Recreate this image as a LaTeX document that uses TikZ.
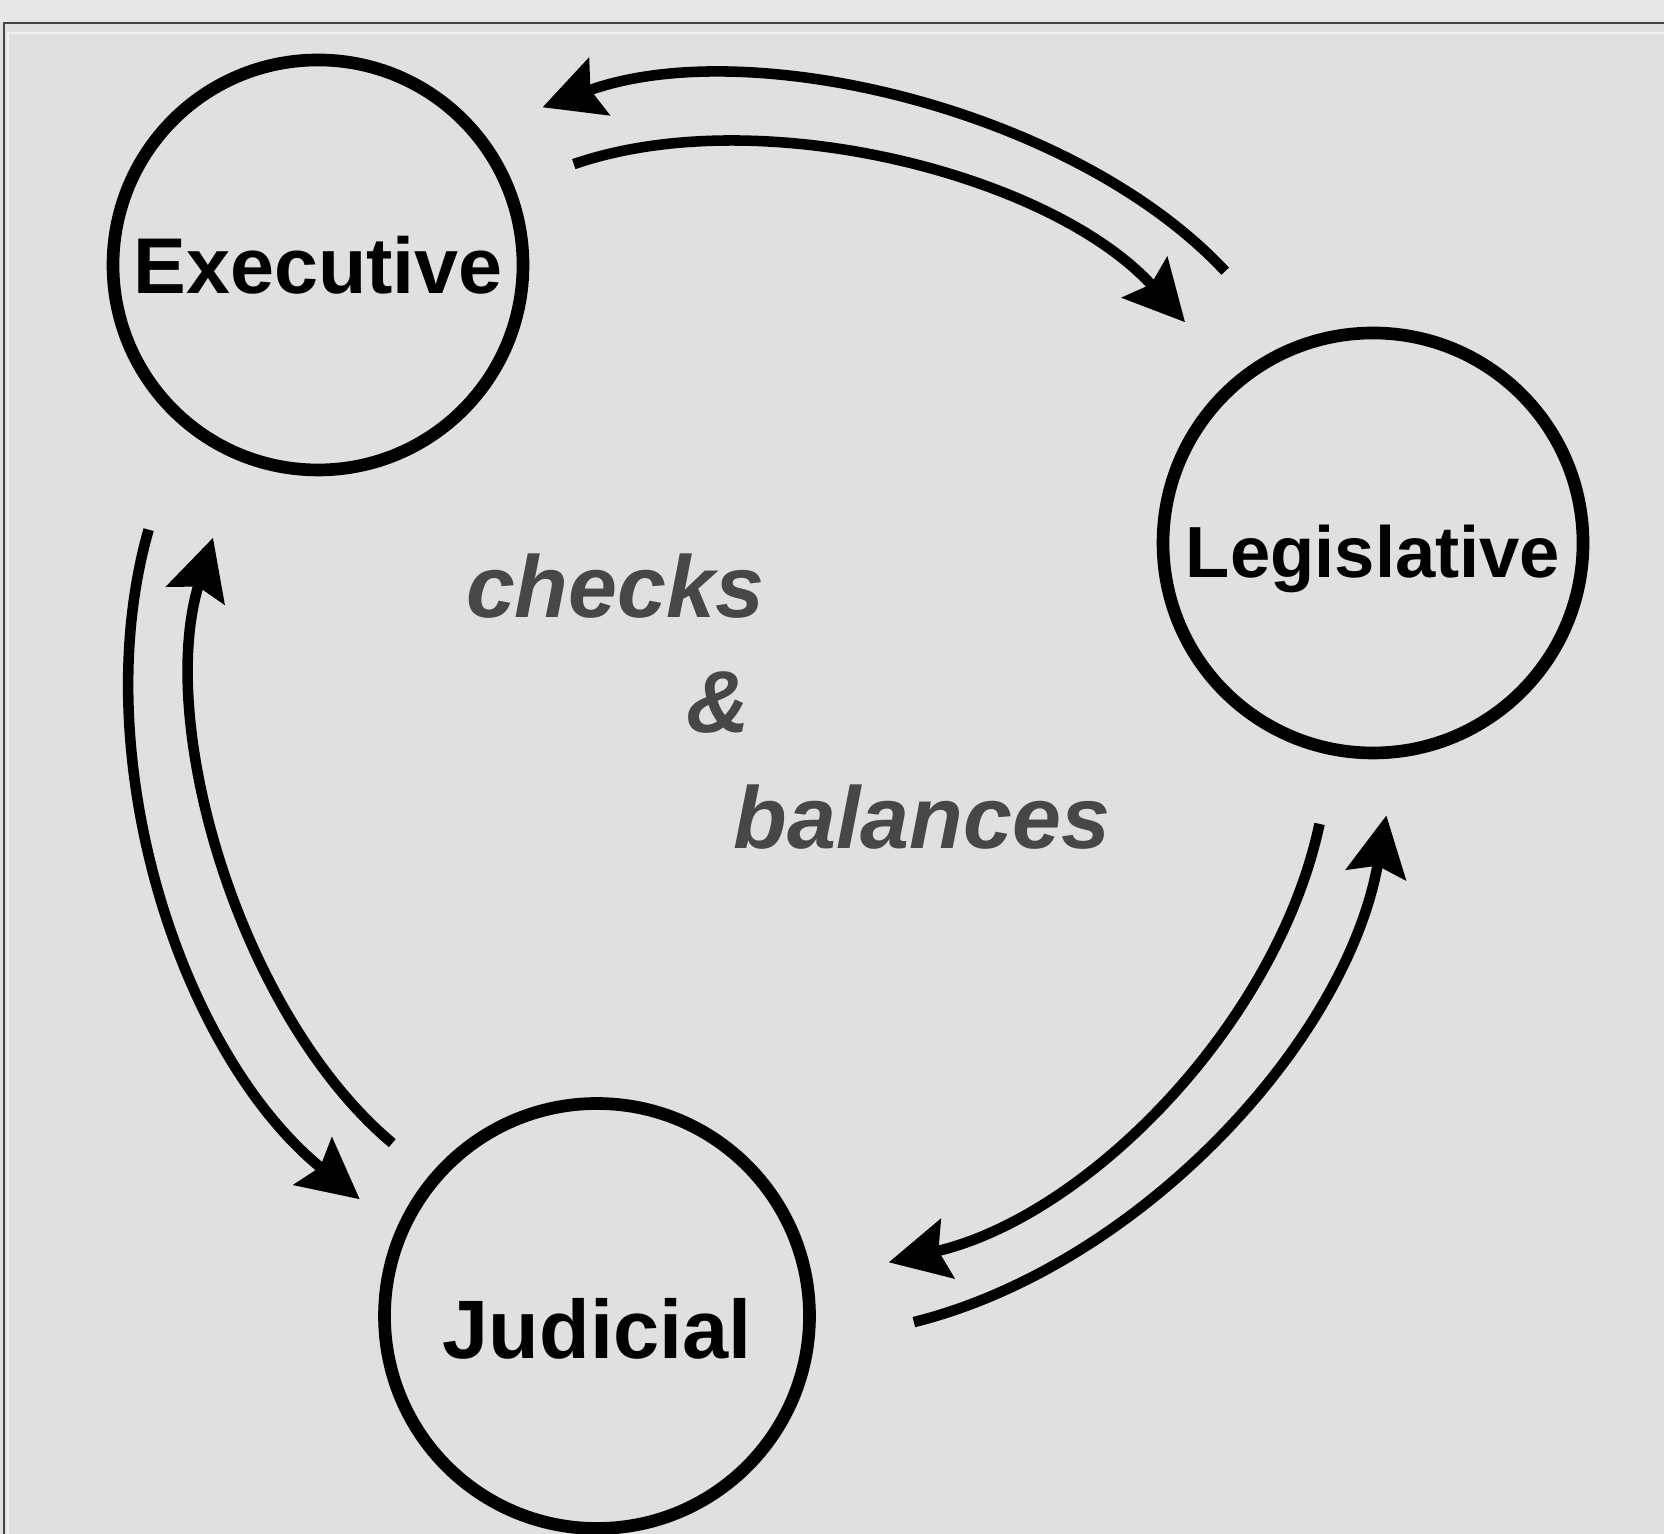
\documentclass[tikz,border=0pt]{standalone}
\usepackage{fontspec}
\setmainfont{Liberation Sans}
\usetikzlibrary{arrows.meta,calc}

\definecolor{paper}{HTML}{E0E0E0}
\definecolor{margin}{HTML}{E7E7E7}
\definecolor{frameline}{HTML}{454545}

\begin{document}
\begin{tikzpicture}[
            branch/.style = {draw, circle, line width = 3.6pt, minimum size = 4.2cm, inner sep = 0pt, text depth = 0pt},
            power/.style = {line width = 3pt, -{Stealth[length = 6mm, width = 6mm, inset = 0.9mm]}},
            motto/.style = {text = black!72, font = \bfseries\itshape\fontsize{25}{30}\selectfont}]
            \useasboundingbox (0,0) rectangle (16.64,15.34);
            \fill[paper] (0,0) rectangle (16.64,15.34);
            \fill[margin] (0,15.11) rectangle (16.64,15.34);
            \draw[white!55!paper, line width = 0.8pt] (0.08,0) -- (0.08,15.01) -- (16.64,15.01);
            \draw[frameline, line width = 0.7pt] (0.04,0) -- (0.04,15.11) -- (16.64,15.11);

            % the three branches
            \node[branch, minimum size = 4.1cm, text height = 0.57cm, font = \bfseries\fontsize{22.5}{27}\selectfont] (exec) at (3.18,12.69) {Executive};
            \node[branch, text height = 0.7cm, font = \bfseries\fontsize{20.6}{25}\selectfont] (legis) at (13.73,9.91) {Legislative};
            \node[branch, minimum size = 4.25cm, text height = 0.86cm, font = \bfseries\fontsize{23.6}{28}\selectfont] (judic) at (5.97,2.18) {Judicial};

            \node[motto] (checks) at (6.15,9.48) {checks};
            \node[motto] (amp) at (7.18,8.31) {\&};
            \node[motto] (balances) at (9.22,7.17) {balances};

            % ends of the paired arcs around the middle
            \coordinate (hub) at (7.60,8.29);
            \coordinate (le-out) at ($(hub)+(43:6.36)$);
            \coordinate (le-in) at ($(hub)+(110:6.36)$);
            \coordinate (el-out) at ($(hub)+(109:5.72)$);
            \coordinate (el-in) at ($(hub)+(42:5.72)$);
            \coordinate (ej-out) at ($(hub)+(164:6.36)$);
            \coordinate (ej-in) at ($(hub)+(231:6.36)$);
            \coordinate (je-out) at ($(hub)+(230:5.72)$);
            \coordinate (je-in) at ($(hub)+(163:5.72)$);
            \coordinate (jl-out) at ($(hub)+(284:6.36)$);
            \coordinate (jl-in) at ($(hub)+(350:6.36)$);
            \coordinate (lj-out) at ($(hub)+(348:5.72)$);
            \coordinate (lj-in) at ($(hub)+(283:5.72)$);

            \draw[power] (le-out) to[bend right = 33.5, looseness = 0.8] (le-in);
            \draw[power] (el-out) to[bend left = 33.5, looseness = 0.8] (el-in);
            \draw[power] (ej-out) to[bend right = 33.5, looseness = 0.85] (ej-in);
            \draw[power] (je-out) to[bend left = 33.5, looseness = 0.8] (je-in);
            \draw[power] (jl-out) to[bend right = 33, looseness = 0.85] (jl-in);
            \draw[power] (lj-out) to[bend left = 32.5, looseness = 0.85] (lj-in);
        \end{tikzpicture}
\end{document}
